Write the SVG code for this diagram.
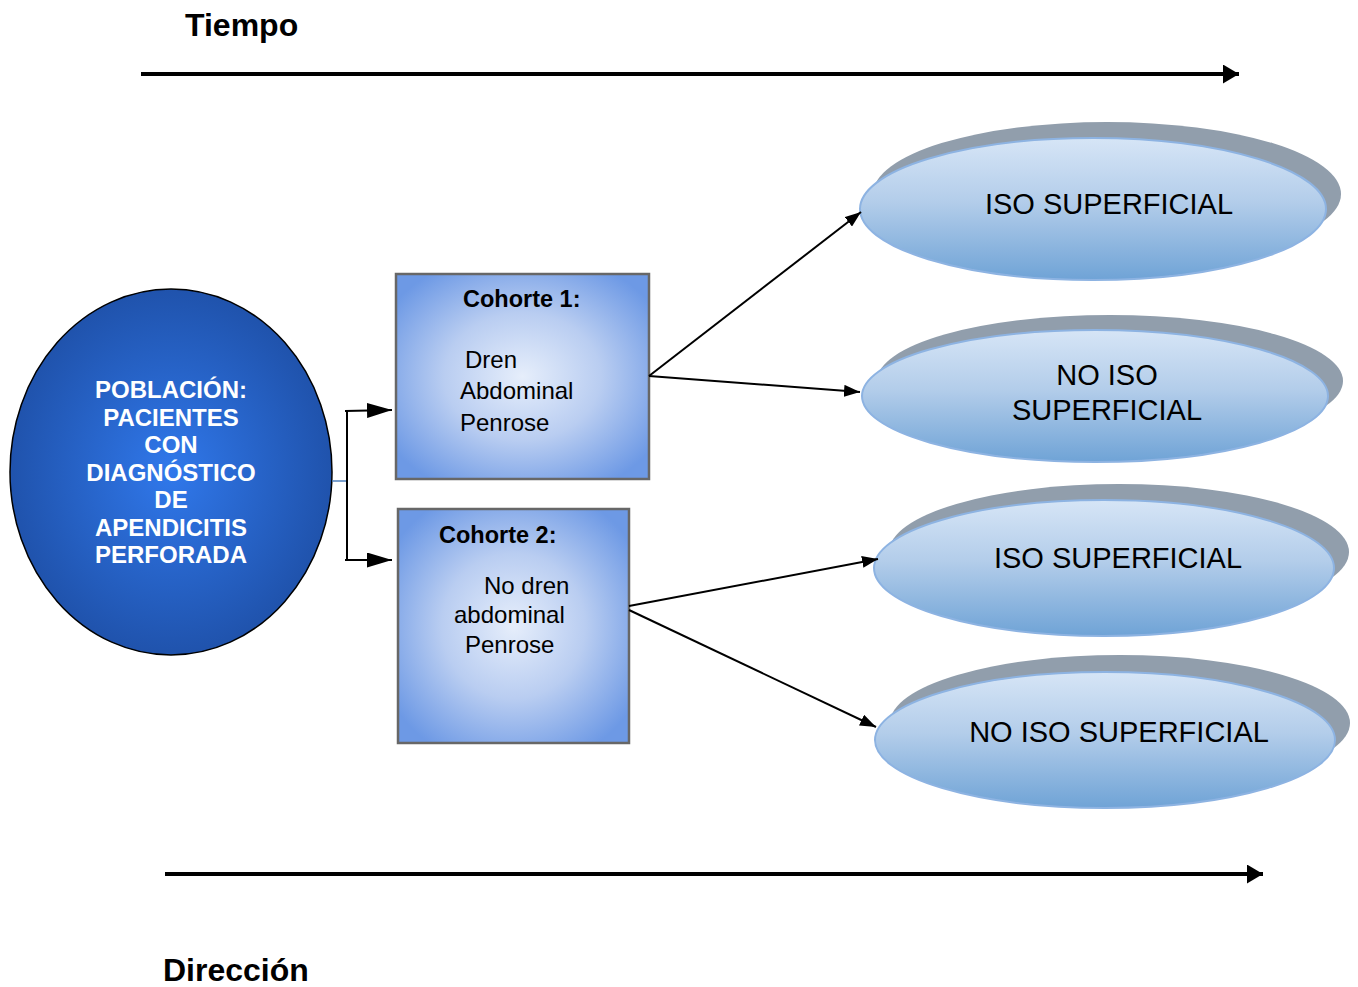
<svg xmlns="http://www.w3.org/2000/svg" width="1358" height="987" viewBox="0 0 1358 987">
<style>
.big{font-family:"Liberation Sans",Arial,sans-serif;font-weight:bold;font-size:32px;fill:#000}
.pop{font-family:"Liberation Sans",Arial,sans-serif;font-weight:bold;font-size:24px;fill:#fff;text-anchor:middle}
.box{stroke:#676767;stroke-width:2.5;fill:url(#boxg)}
.sh{fill:#919eac}
.ov{fill:url(#ovg);stroke:#8db3e2;stroke-width:2}
.ot{font-family:"Liberation Sans",Arial,sans-serif;font-size:29px;fill:#000;text-anchor:middle}
.bt{font-family:"Liberation Sans",Arial,sans-serif;font-size:24px;fill:#000}
.bh{font-family:"Liberation Sans",Arial,sans-serif;font-weight:bold;font-size:23.5px;fill:#000}
.thin{stroke:#000;stroke-width:2;fill:none}
</style>
<defs>
<radialGradient id="boxg" cx="50%" cy="50%" r="62%">
<stop offset="0" stop-color="#e6eefb"/>
<stop offset="0.5" stop-color="#b9cdf1"/>
<stop offset="1" stop-color="#6d99e5"/>
</radialGradient>
<radialGradient id="circg" cx="50%" cy="50%" r="55%">
<stop offset="0" stop-color="#3078eb"/>
<stop offset="1" stop-color="#1e4fa6"/>
</radialGradient>
<linearGradient id="ovg" x1="0" y1="0" x2="0" y2="1">
<stop offset="0" stop-color="#d6e5f6"/>
<stop offset="0.45" stop-color="#b3cdea"/>
<stop offset="1" stop-color="#6fa3d6"/>
</linearGradient>
<marker id="ahs" viewBox="0 0 10 10" refX="10" refY="5" markerWidth="16" markerHeight="12" markerUnits="userSpaceOnUse" orient="auto" preserveAspectRatio="none">
<path d="M0,0 L10,5 L0,10 Z" fill="#000"/>
</marker>
<marker id="ahb" viewBox="0 0 10 10" refX="10" refY="5" markerWidth="25" markerHeight="15" markerUnits="userSpaceOnUse" orient="auto" preserveAspectRatio="none">
<path d="M0,0 L10,5 L0,10 Z" fill="#000"/>
</marker>
<marker id="aht" viewBox="0 0 10 10" refX="10" refY="5" markerWidth="16" markerHeight="19" markerUnits="userSpaceOnUse" orient="auto" preserveAspectRatio="none">
<path d="M0,0 L10,5 L0,10 Z" fill="#000"/>
</marker>
</defs>

<g id="tiempo">
<text class="big" x="185" y="36">Tiempo</text>
<line x1="141" y1="74" x2="1239" y2="74" stroke="#000" stroke-width="4" marker-end="url(#aht)"/>
</g>
<g id="direccion">
<line x1="165" y1="874" x2="1263" y2="874" stroke="#000" stroke-width="4" marker-end="url(#aht)"/>
<text class="big" x="163" y="981">Dirección</text>
</g>

<g id="poblacion">
<ellipse cx="171" cy="472" rx="161" ry="183" fill="url(#circg)" stroke="#000" stroke-width="1.5"/>
<text class="pop" x="171" y="398">POBLACIÓN:</text>
<text class="pop" x="171" y="426">PACIENTES</text>
<text class="pop" x="171" y="453">CON</text>
<text class="pop" x="171" y="481">DIAGNÓSTICO</text>
<text class="pop" x="171" y="508">DE</text>
<text class="pop" x="171" y="536">APENDICITIS</text>
<text class="pop" x="171" y="563">PERFORADA</text>
</g>

<g id="cohorte1">
<rect class="box" x="396" y="274" width="253" height="205"/>
<text class="bh" x="463" y="307">Cohorte 1:</text>
<text class="bt" x="465" y="368">Dren</text>
<text class="bt" x="460" y="399">Abdominal</text>
<text class="bt" x="460" y="431">Penrose</text>
</g>

<g id="cohorte2">
<rect class="box" x="398" y="509" width="231" height="234"/>
<text class="bh" x="439" y="543">Cohorte 2:</text>
<text class="bt" x="484" y="594">No dren</text>
<text class="bt" x="454" y="623">abdominal</text>
<text class="bt" x="465" y="653">Penrose</text>
</g>

<g id="e1">
<ellipse class="sh" cx="1107" cy="194" rx="234" ry="72"/>
<ellipse class="ov" cx="1093" cy="209" rx="233" ry="71"/>
<text class="ot" x="1109" y="214">ISO SUPERFICIAL</text>
</g>
<g id="e2">
<ellipse class="sh" cx="1110" cy="381" rx="233" ry="66"/>
<ellipse class="ov" cx="1095" cy="396" rx="233" ry="66"/>
<text class="ot" x="1107" y="385">NO ISO</text>
<text class="ot" x="1107" y="420">SUPERFICIAL</text>
</g>
<g id="e3">
<ellipse class="sh" cx="1119" cy="552" rx="230" ry="68"/>
<ellipse class="ov" cx="1104" cy="568" rx="230" ry="68"/>
<text class="ot" x="1118" y="568">ISO SUPERFICIAL</text>
</g>
<g id="e4">
<ellipse class="sh" cx="1120" cy="723" rx="230" ry="68"/>
<ellipse class="ov" cx="1105" cy="740" rx="230" ry="68"/>
<text class="ot" x="1119" y="742">NO ISO SUPERFICIAL</text>
</g>

<g id="connectors">
<line x1="332" y1="481" x2="347" y2="481" stroke="#4f81bd" stroke-width="1.5"/>
<polyline class="thin" points="347,481 347,411"/>
<polyline class="thin" points="347,481 347,560"/>
<line x1="345" y1="411" x2="392" y2="410" class="thin" marker-end="url(#ahb)"/>
<line x1="345" y1="560" x2="392" y2="560" class="thin" marker-end="url(#ahb)"/>
<line x1="649" y1="376" x2="861" y2="212" class="thin" marker-end="url(#ahs)"/>
<line x1="649" y1="376" x2="860" y2="392" class="thin" marker-end="url(#ahs)"/>
<line x1="629" y1="606" x2="878" y2="559" class="thin" marker-end="url(#ahs)"/>
<line x1="629" y1="610" x2="876" y2="727" class="thin" marker-end="url(#ahs)"/>
</g>
</svg>
